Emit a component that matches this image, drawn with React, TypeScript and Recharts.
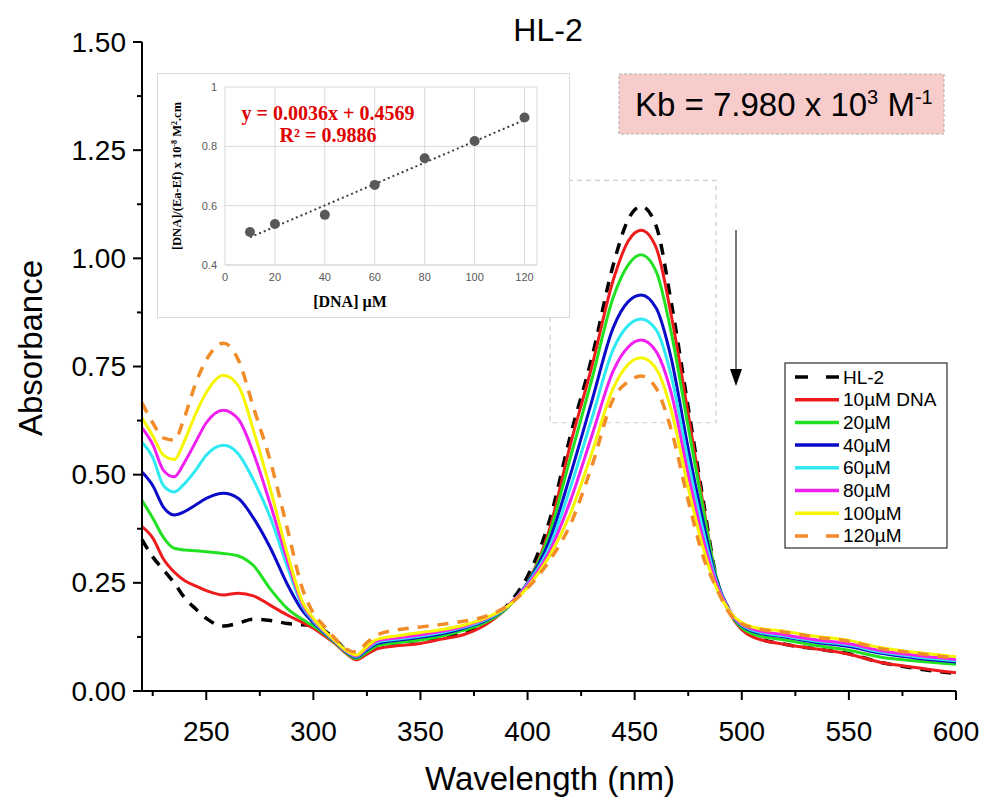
import { LineChart, Line, XAxis, YAxis, ReferenceArea, ScatterChart, Scatter, CartesianGrid } from "recharts";

const wavelengths = [220, 225, 230, 235, 240, 245, 250, 258, 265, 272, 280, 288, 295, 300, 305, 310, 315, 320, 325, 330, 340, 350, 360, 370, 380, 390, 400, 410, 420, 430, 440, 447, 453, 460, 467, 475, 482, 488, 495, 505, 520, 535, 550, 565, 580, 600];

const hl2 = [0.35, 0.31, 0.28, 0.25, 0.215, 0.19, 0.168, 0.15, 0.157, 0.166, 0.163, 0.156, 0.153, 0.152, 0.14, 0.12, 0.095, 0.08, 0.092, 0.105, 0.112, 0.118, 0.125, 0.135, 0.155, 0.195, 0.265, 0.39, 0.59, 0.77, 0.985, 1.09, 1.12, 1.075, 0.9, 0.655, 0.44, 0.265, 0.18, 0.128, 0.108, 0.097, 0.086, 0.066, 0.053, 0.04];
const dna10 = [0.38, 0.354, 0.305, 0.275, 0.255, 0.243, 0.232, 0.222, 0.226, 0.22, 0.198, 0.175, 0.158, 0.145, 0.128, 0.11, 0.088, 0.072, 0.085, 0.098, 0.105, 0.11, 0.12, 0.13, 0.152, 0.19, 0.25, 0.37, 0.57, 0.75, 0.95, 1.04, 1.065, 1.025, 0.87, 0.64, 0.43, 0.26, 0.175, 0.125, 0.108, 0.097, 0.085, 0.066, 0.055, 0.042];
const dna20 = [0.44, 0.4, 0.355, 0.33, 0.326, 0.324, 0.322, 0.318, 0.312, 0.29, 0.235, 0.19, 0.165, 0.15, 0.132, 0.112, 0.09, 0.075, 0.09, 0.105, 0.112, 0.118, 0.127, 0.14, 0.158, 0.19, 0.25, 0.36, 0.54, 0.72, 0.91, 0.985, 1.008, 0.97, 0.83, 0.61, 0.42, 0.265, 0.178, 0.132, 0.118, 0.105, 0.094, 0.078, 0.07, 0.062];
const dna40 = [0.506, 0.475, 0.425, 0.407, 0.415, 0.43, 0.445, 0.457, 0.445, 0.4, 0.33, 0.245, 0.185, 0.158, 0.135, 0.114, 0.092, 0.078, 0.095, 0.11, 0.118, 0.124, 0.132, 0.145, 0.162, 0.192, 0.25, 0.345, 0.5, 0.67, 0.84, 0.9, 0.915, 0.885, 0.77, 0.56, 0.39, 0.26, 0.18, 0.138, 0.125, 0.112, 0.103, 0.087, 0.077, 0.067];
const dna60 = [0.575, 0.54, 0.475, 0.46, 0.48, 0.51, 0.545, 0.568, 0.548, 0.488, 0.4, 0.285, 0.195, 0.162, 0.137, 0.115, 0.093, 0.08, 0.098, 0.113, 0.12, 0.127, 0.135, 0.147, 0.164, 0.193, 0.248, 0.33, 0.47, 0.63, 0.79, 0.845, 0.86, 0.835, 0.73, 0.53, 0.37, 0.255, 0.18, 0.14, 0.127, 0.115, 0.106, 0.09, 0.08, 0.07];
const dna80 = [0.608, 0.57, 0.51, 0.495, 0.53, 0.575, 0.62, 0.649, 0.628, 0.55, 0.43, 0.3, 0.2, 0.165, 0.138, 0.116, 0.094, 0.081, 0.1, 0.116, 0.123, 0.13, 0.138, 0.149, 0.166, 0.194, 0.245, 0.32, 0.44, 0.59, 0.74, 0.795, 0.811, 0.785, 0.69, 0.5, 0.35, 0.25, 0.18, 0.143, 0.13, 0.118, 0.109, 0.093, 0.083, 0.073];
const dna100 = [0.631, 0.59, 0.545, 0.535, 0.58, 0.64, 0.69, 0.73, 0.705, 0.603, 0.465, 0.315, 0.205, 0.168, 0.14, 0.117, 0.095, 0.083, 0.103, 0.12, 0.128, 0.135, 0.142, 0.152, 0.168, 0.193, 0.24, 0.31, 0.41, 0.55, 0.7, 0.755, 0.77, 0.745, 0.65, 0.47, 0.33, 0.24, 0.18, 0.148, 0.138, 0.126, 0.117, 0.1, 0.09, 0.079];
const dna120 = [0.666, 0.62, 0.585, 0.58, 0.635, 0.71, 0.765, 0.804, 0.765, 0.656, 0.53, 0.372, 0.235, 0.18, 0.15, 0.122, 0.098, 0.09, 0.112, 0.13, 0.142, 0.148, 0.154, 0.161, 0.172, 0.195, 0.238, 0.3, 0.385, 0.52, 0.675, 0.715, 0.728, 0.7, 0.605, 0.44, 0.31, 0.24, 0.175, 0.146, 0.136, 0.124, 0.115, 0.098, 0.088, 0.076];

const xTicks = [225, 250, 275, 300, 325, 350, 375, 400, 425, 450, 475, 500, 525, 550, 575, 600];
const yTicks = [0, 0.125, 0.25, 0.375, 0.5, 0.625, 0.75, 0.875, 1, 1.125, 1.25, 1.375, 1.5];

// inset: binding plot
const insetDna = [10, 20, 40, 60, 80, 100, 120];
const insetRatio = [0.511, 0.538, 0.569, 0.67, 0.76, 0.818, 0.897];
const trendDna = [10, 120];
const trendRatio = [0.493, 0.889];

const series = [
  { key: "hl2", name: "HL-2", values: hl2, color: "#000000", dash: "11 9" },
  { key: "dna10", name: "10µM DNA", values: dna10, color: "#ee1c1c" },
  { key: "dna20", name: "20µM", values: dna20, color: "#22e022" },
  { key: "dna40", name: "40µM", values: dna40, color: "#0a0ac8" },
  { key: "dna60", name: "60µM", values: dna60, color: "#2ee8f2" },
  { key: "dna80", name: "80µM", values: dna80, color: "#f020f0" },
  { key: "dna100", name: "100µM", values: dna100, color: "#f6f600" },
  { key: "dna120", name: "120µM", values: dna120, color: "#f28c28", dash: "11 9" },
];

const rows = wavelengths.map((w, i) => {
  const r: Record<string, number> = { w };
  series.forEach((s) => (r[s.key] = s.values[i]));
  return r;
});
const insetPoints = insetDna.map((x, i) => ({ x, y: insetRatio[i] }));
const trendPoints = trendDna.map((x, i) => ({ x, y: trendRatio[i] }));

const SANS = "'Liberation Sans', Arial, sans-serif";
const SERIF = "'Liberation Serif', 'Times New Roman', serif";

function XTick(props: any) {
  const { x, y, payload } = props;
  const major = payload.value % 50 === 0;
  return (
    <g>
      <line x1={x} y1={y} x2={x} y2={y + (major ? 9 : 5)} stroke="#000" strokeWidth={2} />
      {major && (
        <text x={x} y={y + 40} textAnchor="middle" dominantBaseline="central" fontSize={28} fontFamily={SANS} fill="#000">
          {payload.value}
        </text>
      )}
    </g>
  );
}

function YTick(props: any) {
  const { x, y, payload } = props;
  const major = Math.round(payload.value * 1000) % 250 === 0;
  return (
    <g>
      <line x1={x - (major ? 9 : 5)} y1={y} x2={x} y2={y} stroke="#000" strokeWidth={2} />
      {major && (
        <text x={x - 16} y={y} textAnchor="end" dominantBaseline="central" fontSize={28} fontFamily={SANS} fill="#000">
          {payload.value.toFixed(2)}
        </text>
      )}
    </g>
  );
}

export default function App() {
  return (
    <div style={{ position: "absolute", left: 0, top: 0, width: 983, height: 802, background: "#fff" }}>
      <LineChart width={983} height={802} data={rows} margin={{ top: 42, right: 27, bottom: 21, left: 52 }}>
        <XAxis
          dataKey="w"
          type="number"
          domain={[220, 600]}
          ticks={xTicks}
          interval={0}
          tick={<XTick />}
          tickLine={false}
          tickSize={0}
          tickMargin={0}
          height={90}
          axisLine={{ stroke: "#000", strokeWidth: 2 }}
        />
        <YAxis
          type="number"
          domain={[0, 1.5]}
          ticks={yTicks}
          interval={0}
          tick={<YTick />}
          tickLine={false}
          tickSize={0}
          tickMargin={0}
          width={90}
          axisLine={{ stroke: "#000", strokeWidth: 2 }}
        />
        <ReferenceArea x1={410.5} x2={488} y1={0.62} y2={1.18} fill="none" stroke="#cdcdcd" strokeWidth={1.2} strokeDasharray="5 4" />
        {series.map((s) => (
          <Line
            key={s.key}
            dataKey={s.key}
            name={s.name}
            type="monotone"
            stroke={s.color}
            strokeWidth={s.dash ? 3.5 : 3}
            strokeDasharray={s.dash}
            dot={false}
            isAnimationActive={false}
          />
        ))}
      </LineChart>

      <div style={{ position: "absolute", left: 157, top: 73, width: 411, height: 243, border: "1px solid #d9d9d9", background: "#fff" }}>
        <ScatterChart width={411} height={243} margin={{ top: 13, right: 32, bottom: 0, left: 10 }}>
          <CartesianGrid stroke="#d9d9d9" />
          <XAxis
            dataKey="x"
            type="number"
            domain={[0, 125]}
            ticks={[0, 20, 40, 60, 80, 100, 120]}
            tick={{ fontSize: 11, fill: "#595959", fontFamily: SANS }}
            tickLine={false}
            axisLine={{ stroke: "#d9d9d9" }}
            height={52}
          />
          <YAxis
            dataKey="y"
            type="number"
            domain={[0.4, 1]}
            ticks={[0.4, 0.6, 0.8, 1]}
            tickFormatter={(v: number) => (v === 1 ? "1" : v.toFixed(1))}
            tick={{ fontSize: 11, fill: "#595959", fontFamily: SANS }}
            tickLine={false}
            axisLine={false}
            width={57}
          />
          <Scatter
            data={trendPoints}
            line={{ stroke: "#404040", strokeWidth: 2, strokeDasharray: "2 3" }}
            shape={() => <g />}
            isAnimationActive={false}
          />
          <Scatter
            data={insetPoints}
            shape={(p: any) => <circle cx={p.cx} cy={p.cy} r={5} fill="#595959" />}
            isAnimationActive={false}
          />
        </ScatterChart>
      </div>

      <svg width={983} height={802} style={{ position: "absolute", left: 0, top: 0, pointerEvents: "none" }}>
        <text x={548} y={41} textAnchor="middle" fontSize={32} fontFamily={SANS}>HL-2</text>
        <text transform="translate(42,348) rotate(-90)" textAnchor="middle" fontSize={33} fontFamily={SANS}>Absorbance</text>
        <text x={550} y={790} textAnchor="middle" fontSize={33} fontFamily={SANS}>Wavelength (nm)</text>

        {/* inset labels */}
        <text x={328} y={120} textAnchor="middle" fontSize={20} fontWeight="bold" fontFamily={SERIF} fill="#e00000">y = 0.0036x + 0.4569</text>
        <text x={328} y={142} textAnchor="middle" fontSize={20} fontWeight="bold" fontFamily={SERIF} fill="#e00000">R² = 0.9886</text>
        <text x={350} y={307} textAnchor="middle" fontSize={16} fontWeight="bold" fontFamily={SERIF}>[DNA] µM</text>
        <text transform="translate(181,176) rotate(-90)" textAnchor="middle" fontSize={12.5} fontWeight="bold" fontFamily={SERIF}>
          [DNA]/(Ea-Ef) x 10<tspan dy={-4} fontSize={8}>-8</tspan><tspan dy={4}> M</tspan><tspan dy={-4} fontSize={8}>2</tspan><tspan dy={4}>.cm</tspan>
        </text>

        {/* Kb box */}
        <rect x={619} y={74} width={325} height={60} fill="#f9cccc" stroke="#b0b0b0" strokeDasharray="3 2" />
        <text x={635} y={116} fontSize={33} fontFamily={SANS}>
          Kb = 7.980 x 10<tspan dy={-12} fontSize={20}>3</tspan><tspan dy={12}> M</tspan><tspan dy={-12} fontSize={20}>-1</tspan>
        </text>

        {/* arrow */}
        <line x1={736} y1={230} x2={736} y2={372} stroke="#7a7a7a" strokeWidth={2} />
        <polygon points="730,369 742,369 736,386" fill="#000" />

        {/* legend */}
        <rect x={785} y={363} width={162} height={185} fill="#fff" stroke="#000" strokeWidth={1} />
        {series.map((s, i) => {
          const y = 377 + i * 22.7;
          return (
            <g key={s.key}>
              <line x1={795} x2={839} y1={y} y2={y} stroke={s.color} strokeWidth={3.5} strokeDasharray={s.dash ? "13 18" : undefined} />
              <text x={843} y={y} dominantBaseline="central" fontSize={19} fontFamily={SANS}>{s.name}</text>
            </g>
          );
        })}
      </svg>
    </div>
  );
}
